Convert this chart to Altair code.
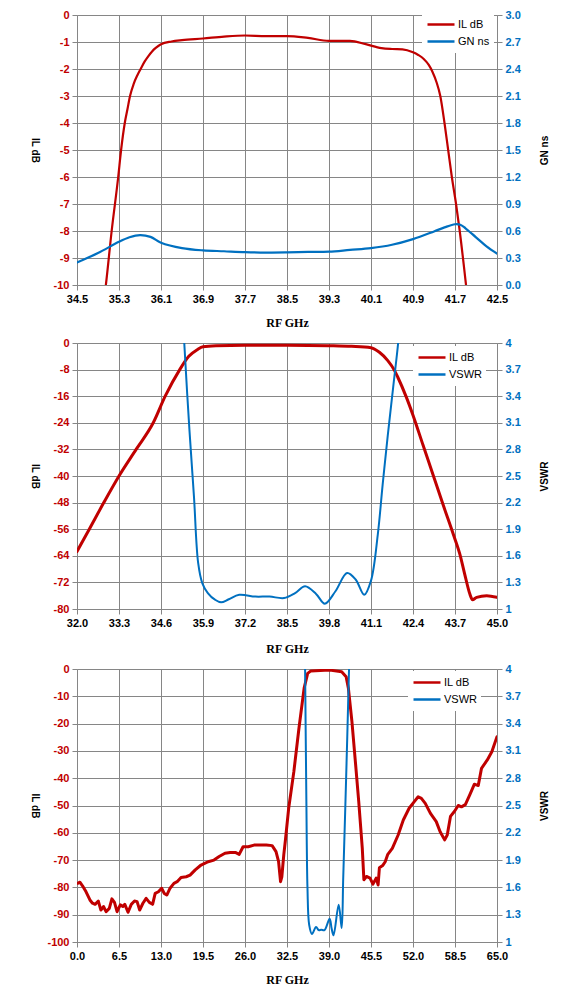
import altair as alt
import pandas as pd

RED = "#C00000"
BLUE = "#0070C0"
GRID = "#868686"

# ---------------- Panel 1 : IL dB / GN ns ----------------
p1_x_ticks = [34.5, 35.3, 36.1, 36.9, 37.7, 38.5, 39.3, 40.1, 40.9, 41.7, 42.5]
p1_y_ticks = [0, -1, -2, -3, -4, -5, -6, -7, -8, -9, -10]
p1_y2_ticks = [0.0, 0.3, 0.6, 0.9, 1.2, 1.5, 1.8, 2.1, 2.4, 2.7, 3.0]

p1_il_f = [34.99, 35.05, 35.16, 35.285, 35.34, 35.41, 35.46, 35.51, 35.58, 35.65, 35.72, 35.79,
           35.86, 35.93, 36.0, 36.1, 36.3, 36.5, 36.9, 37.3, 37.7, 38.1, 38.5, 38.9, 39.3, 39.7,
           40.0, 40.3, 40.5, 40.7, 40.9, 41.0, 41.1, 41.2, 41.27, 41.35, 41.42, 41.5, 41.57,
           41.64, 41.72, 41.79, 41.91, 41.95]
p1_il_db = [-10.9, -10.0, -8.0, -6.0, -5.0, -4.0, -3.5, -3.0, -2.55, -2.23, -1.97, -1.72,
            -1.52, -1.35, -1.22, -1.08, -0.98, -0.93, -0.87, -0.8, -0.76, -0.78, -0.78, -0.85,
            -0.96, -0.96, -1.08, -1.23, -1.26, -1.27, -1.38, -1.48, -1.62, -1.85, -2.1, -2.5,
            -3.0, -4.0, -5.0, -6.0, -7.0, -8.0, -10.0, -10.7]

p1_gn_f = [34.5, 34.9, 35.3, 35.5, 35.7, 35.9, 36.1, 36.5, 36.9, 37.3, 37.7, 38.1, 38.5, 38.9,
           39.3, 39.7, 40.1, 40.5, 40.9, 41.3, 41.5, 41.7, 41.8, 41.9, 42.1, 42.3, 42.5]
p1_gn_ns = [0.25, 0.355, 0.48, 0.53, 0.555, 0.535, 0.47, 0.41, 0.385, 0.375, 0.365, 0.36, 0.362, 0.367,
            0.37, 0.39, 0.41, 0.447, 0.51, 0.595, 0.64, 0.675, 0.67, 0.63, 0.53, 0.43, 0.35]

# ---------------- Panel 2 : IL dB / VSWR ----------------
p2_x_ticks = [32.0, 33.3, 34.6, 35.9, 37.2, 38.5, 39.8, 41.1, 42.4, 43.7, 45.0]
p2_y_ticks = [0, -8, -16, -24, -32, -40, -48, -56, -64, -72, -80]
p2_y2_ticks = [1, 1.3, 1.6, 1.9, 2.2, 2.5, 2.8, 3.1, 3.4, 3.7, 4]

p2_il_f = [32.0, 32.38, 32.83, 33.3, 33.83, 34.36, 34.73, 35.18, 35.46, 35.72, 35.9, 36.3, 37.2,
           38.5, 39.8, 40.5, 41.1, 41.36, 41.62, 41.83, 41.93, 42.19, 42.4, 42.71, 43.02, 43.33,
           43.65, 43.85, 44.0, 44.16, 44.24, 44.37, 44.68, 45.0]
p2_il_db = [-62.7, -56.0, -48.0, -40.0, -32.0, -24.0, -16.0, -8.0, -4.0, -2.0, -1.1, -0.8, -0.65,
            -0.65, -0.8, -1.0, -1.4, -2.8, -5.3, -8.3, -10.3, -16.2, -21.7, -30.7, -39.6, -48.6,
            -57.6, -63.5, -69.5, -75.5, -77.2, -76.5, -76.0, -76.5]

p2_vs_f = [35.28, 35.32, 35.48, 35.62, 35.75, 35.88, 36.05, 36.27, 36.46, 36.7, 37.02, 37.52,
           37.96, 38.41, 38.75, 39.06, 39.4, 39.67, 40.0, 40.36, 40.63, 40.89, 41.1, 41.31, 41.46,
           41.62, 41.78, 41.94, 41.98]
p2_vswr = [4.3, 4.0, 3.02, 2.27, 1.52, 1.29, 1.18, 1.105, 1.075, 1.11, 1.16, 1.14,
           1.14, 1.124, 1.18, 1.256, 1.17, 1.06, 1.2, 1.406, 1.33, 1.16, 1.32, 1.84, 2.4,
           2.96, 3.48, 4.0, 4.2]

# ---------------- Panel 3 : IL dB / VSWR (wide band) ----------------
p3_x_ticks = [0.0, 6.5, 13.0, 19.5, 26.0, 32.5, 39.0, 45.5, 52.0, 58.5, 65.0]
p3_y_ticks = [0, -10, -20, -30, -40, -50, -60, -70, -80, -90, -100]
p3_y2_ticks = [1, 1.3, 1.6, 1.9, 2.2, 2.5, 2.8, 3.1, 3.4, 3.7, 4]

p3_il_f = [0.1, 0.45, 0.85, 1.4, 2.0, 2.4, 2.8, 3.3, 3.7, 4.1, 4.5, 5.0, 5.4, 5.8, 6.2, 6.7, 7.1,
           7.4, 7.9, 8.4, 8.9, 9.3, 9.7, 10.2, 10.7, 11.2, 11.7, 12.1, 12.6, 13.1, 13.5, 13.9,
           14.4, 15.0, 15.5, 16.1, 16.9, 17.5, 18.3, 19.2, 19.75, 20.3, 21.2, 22.0, 22.9, 23.7,
           24.5, 25.1, 25.7, 26.5, 27.4, 28.2, 29.3, 30.2, 30.8, 31.2, 31.5, 31.7, 32.0, 32.24,
           32.76, 33.56, 34.35, 35.15, 35.7, 36.2, 39.1, 40.96, 41.65, 42.0, 42.55, 43.08, 43.6,
           44.15, 44.4, 44.8, 45.35, 45.8, 46.3, 46.6, 46.8, 47.3, 47.7, 48.1, 48.8, 49.7, 50.5,
           51.4, 52.2, 52.8, 53.3, 53.9, 54.7, 55.6, 56.2, 56.9, 57.3, 57.8, 58.4, 59.0, 59.5,
           60.1, 60.8, 61.5, 62.1, 62.6, 63.5, 64.2, 65.0]
p3_il_db = [-78.5, -78.1, -79.4, -81.6, -84.6, -85.8, -86.2, -85.0, -88.3, -87.0, -88.9, -87.7,
            -84.2, -85.5, -88.9, -86.4, -87.0, -86.2, -89.1, -86.2, -85.0, -85.2, -88.3, -85.8,
            -84.0, -85.5, -86.2, -82.2, -81.6, -80.3, -82.2, -82.8, -80.3, -78.5, -77.9, -76.4,
            -76.1, -75.5, -73.6, -71.8, -71.2, -70.6, -70.0, -68.7, -67.5, -67.2, -67.2, -67.9,
            -65.1, -65.1, -64.5, -64.5, -64.5, -64.7, -66.9, -70.6, -77.9, -76.1, -68.1, -63.0,
            -51.0, -37.6, -21.7, -7.0, -1.6, -0.7, -0.4, -1.0, -2.8, -7.0, -19.3, -33.9, -48.5,
            -65.6, -77.2, -76.0, -76.6, -78.8, -76.6, -79.1, -72.8, -72.0, -70.6, -67.9, -65.7,
            -60.8, -55.3, -51.0, -48.6, -46.8, -47.4, -49.2, -52.9, -55.9, -59.6, -62.6, -60.8,
            -54.0, -52.2, -50.0, -50.5, -49.7, -46.0, -42.2, -42.7, -36.4, -33.3, -30.3, -24.8]

p3_vs_f = [35.25, 35.3, 35.5, 35.67, 35.93, 36.36, 37.0, 37.4, 37.8, 38.3, 39.1, 39.4, 39.7,
           40.5, 40.96, 41.2, 41.65, 42.1, 42.15]
p3_vswr = [4.3, 4.0, 2.54, 1.59, 1.19, 1.088, 1.165, 1.13, 1.135, 1.13, 1.256, 1.15, 1.073,
           1.41, 1.154, 1.70, 2.8, 4.0, 4.2]

W = 420
FONT = "Liberation Sans"


def make_panel(il_f, il_v, s_f, s_v, s_name, x_dom, x_ticks, y_dom, y_ticks,
               y2_dom, y2_ticks, y2_fmt, h, leg_x, leg_y, red_w, blue_w, red_interp, xt_y):
    d1 = pd.DataFrame({"f": il_f, "v": il_v, "s": ["IL dB"] * len(il_f)})
    d2 = pd.DataFrame({"f": s_f, "v": s_v, "s": [s_name] * len(s_f)})
    color = alt.Color(
        "s:N",
        scale=alt.Scale(domain=["IL dB", s_name], range=[RED, BLUE]),
        legend=alt.Legend(orient="none", legendX=leg_x, legendY=leg_y, title=None,
                          symbolType="stroke", symbolStrokeWidth=2.5, symbolSize=729,
                          clipHeight=15, labelFont=FONT, labelFontSize=11, labelColor="black",
                          fillColor="white", padding=4, rowPadding=2, labelOffset=2,
                          symbolOffset=0),
    )
    x = alt.X(
        "f:Q",
        scale=alt.Scale(domain=x_dom, nice=False, zero=False),
        axis=alt.Axis(values=x_ticks, format=".1f", title="RF GHz",
                      titleFont="Liberation Serif", titleFontSize=12, titleFontWeight="bold",
                      titleColor="black", titleY=xt_y, titleBaseline="middle",
                      labelFont=FONT, labelFontSize=11, labelFontWeight="bold",
                      labelColor="black", labelFlush=False, labelOverlap=False,
                      grid=True, gridColor=GRID, gridWidth=1, domainColor=GRID,
                      tickColor=GRID, tickSize=5, labelPadding=3),
    )
    y1 = alt.Y(
        "v:Q",
        scale=alt.Scale(domain=y_dom, nice=False, zero=False),
        axis=alt.Axis(values=y_ticks, labelExpr="'' + datum.value", orient="left",
                      title="IL dB", titleAngle=90, titleX=-43, titleY=h / 2,
                      titleAlign="center", titleBaseline="middle", titleFont=FONT,
                      titleFontSize=10, titleFontWeight="bold", titleColor="black",
                      labelFont=FONT, labelFontSize=11, labelFontWeight="bold",
                      labelColor=RED, labelOverlap=False, grid=True, gridColor=GRID,
                      gridWidth=1, domainColor=GRID, tickColor=GRID, tickSize=5,
                      labelPadding=3),
    )
    y2 = alt.Y(
        "v:Q",
        scale=alt.Scale(domain=y2_dom, nice=False, zero=False),
        axis=alt.Axis(values=y2_ticks, format=y2_fmt, orient="right",
                      title=s_name, titleAngle=270, titleX=47, titleY=h / 2,
                      titleAlign="center", titleBaseline="middle", titleFont=FONT,
                      titleFontSize=10, titleFontWeight="bold", titleColor="black",
                      labelFont=FONT, labelFontSize=11, labelFontWeight="bold",
                      labelColor=BLUE, labelOverlap=False, grid=False, domainColor=GRID,
                      tickColor=GRID, tickSize=5, labelPadding=3),
    )
    l1 = alt.Chart(d1).mark_line(clip=True, strokeWidth=red_w, interpolate=red_interp,
                                 strokeJoin="round", strokeCap="round").encode(
        x=x, y=y1, color=color)
    l2 = alt.Chart(d2).mark_line(clip=True, strokeWidth=blue_w, interpolate="catmull-rom",
                                 strokeJoin="round", strokeCap="round").encode(
        x=x, y=y2, color=color)
    return alt.layer(l1, l2).resolve_scale(y="independent").properties(width=W, height=h)


p1 = make_panel(p1_il_f, p1_il_db, p1_gn_f, p1_gn_ns, "GN ns", [34.5, 42.5], p1_x_ticks,
                [-10, 0], p1_y_ticks, [0, 3], p1_y2_ticks, ".1f", 270, 345, -2, 2.2, 2.2,
                "monotone", 37)
p2 = make_panel(p2_il_f, p2_il_db, p2_vs_f, p2_vswr, "VSWR", [32, 45], p2_x_ticks,
                [-80, 0], p2_y_ticks, [1, 4], p2_y2_ticks, "~g", 266, 336, 3, 3, 2,
                "monotone", 39)
p3 = make_panel(p3_il_f, p3_il_db, p3_vs_f, p3_vswr, "VSWR", [0, 65], p3_x_ticks,
                [-100, 0], p3_y_ticks, [1, 4], p3_y2_ticks, "~g", 273, 331, 2, 3, 2,
                "linear", 37)

chart = (
    alt.vconcat(p1, p2, p3, spacing=9)
    .resolve_scale(color="independent")
    .resolve_legend(color="independent")
    .properties(padding={"left": 21, "top": 1, "right": 0, "bottom": 0})
    .configure_view(strokeWidth=0)
)

chart.save("out.html", embed_options={"renderer": "svg", "actions": False})
